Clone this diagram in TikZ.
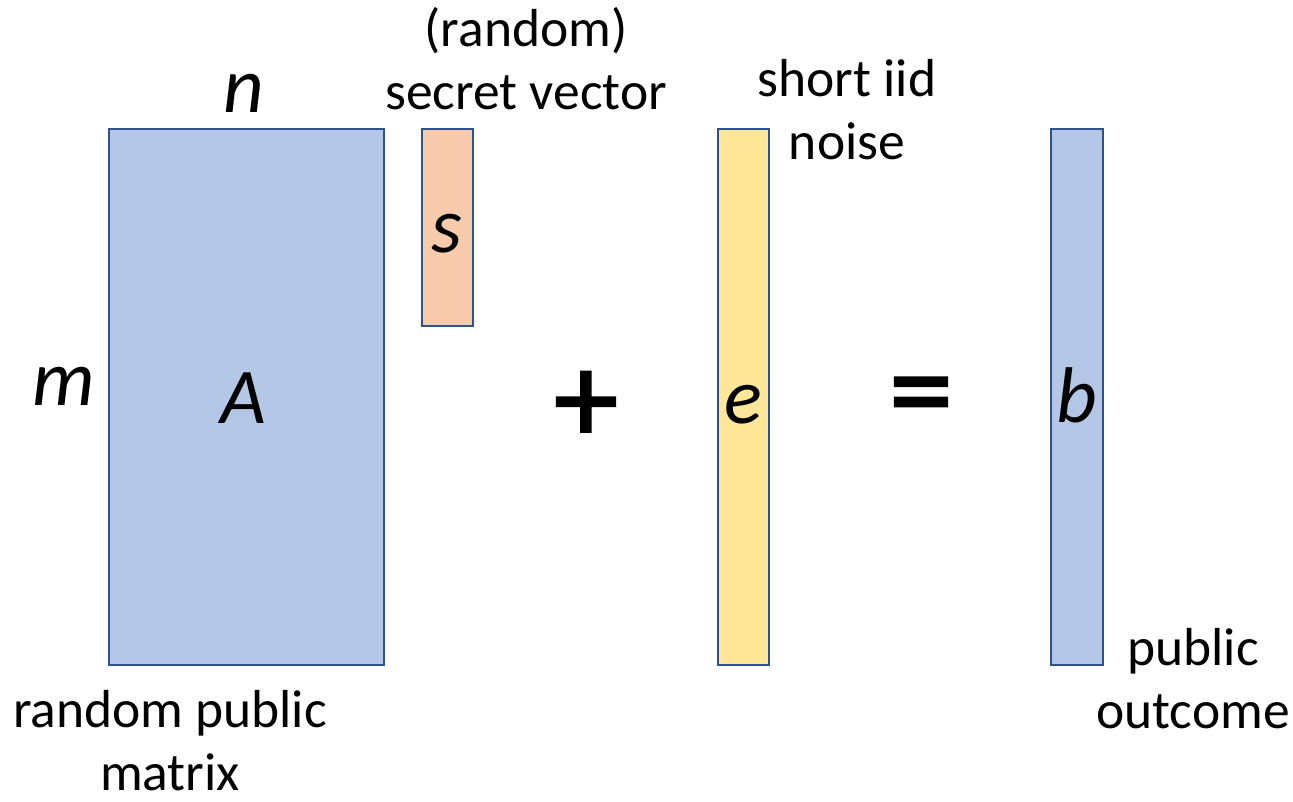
\documentclass[tikz,border=0pt]{standalone}
\usepackage{fontspec}
\setmainfont{Carlito}
\definecolor{edgeblue}{HTML}{2F528F}
\definecolor{matblue}{HTML}{B4C7E7}
\definecolor{secorange}{HTML}{F8CBAD}
\definecolor{noiseyellow}{HTML}{FFE699}
\tikzset{
  vecbox/.style={draw=edgeblue, line width=2pt, inner sep=0pt},
  mathlbl/.style={font=\fontsize{79}{90}\selectfont\itshape, inner sep=0pt, anchor=base},
  caption/.style={font=\fontsize{53.5}{63}\selectfont, inner sep=0pt, align=center, anchor=base},
  opsym/.style={font=\fontsize{128}{140}\selectfont\addfontfeatures{FakeBold=1.8}, inner sep=0pt},
}
\begin{document}
\begin{tikzpicture}[x=1pt,y=-1pt]
\useasboundingbox (0,0) rectangle (1293,802);
% boxes
\node[vecbox, fill=matblue, minimum width=275pt, minimum height=536pt] (A) at (246.5,397) {};
\node[vecbox, fill=secorange, minimum width=51pt, minimum height=197pt] (s) at (447.5,227.5) {};
\node[vecbox, fill=noiseyellow, minimum width=51pt, minimum height=536pt] (e) at (743.5,397) {};
\node[vecbox, fill=matblue, minimum width=52pt, minimum height=536pt] (b) at (1077,397) {};
% math letters
\node[mathlbl] (Alab) at (243,423) {A};
\node[mathlbl] (mlab) at (64,405) {m};
\node[mathlbl] (nlab) at (244,113) {n};
\node[mathlbl] (slab) at (447,253) {s};
\node[mathlbl] (elab) at (743,423) {e};
\node[mathlbl] (blab) at (1077,422) {b};
% operators
\node[opsym] (plus) at (586,407) {+};
\node[opsym] (eq) at (921,405) {=};
% captions
\node[caption] (sec) at (526,110) {(random)\\secret vector};
\node[caption] (noise) at (847,160) {short iid\\noise};
\node[caption] (rpm) at (170,790) {random public\\matrix};
\node[caption] (pout) at (1193,728) {public\\outcome};
\end{tikzpicture}
\end{document}
